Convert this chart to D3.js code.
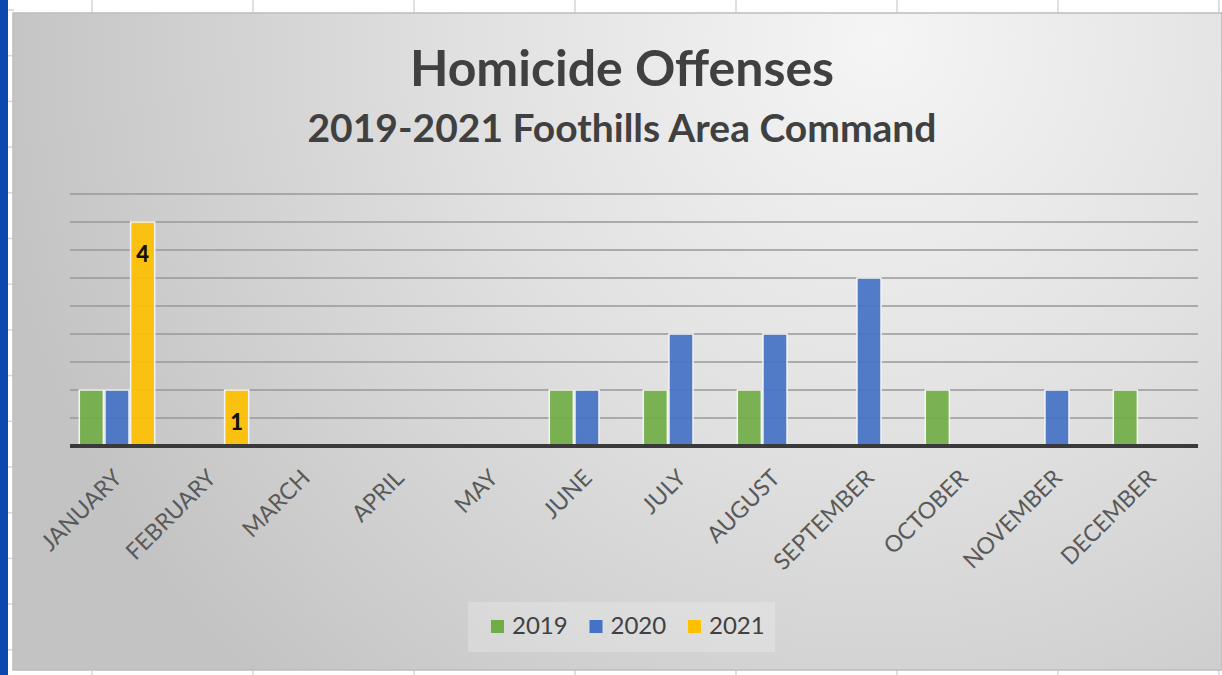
<!DOCTYPE html>
<html>
<head>
<meta charset="utf-8">
<script src="https://cdn.jsdelivr.net/npm/d3@7"></script>
<style>
  body { margin: 0; background: #fff; }
  svg { display: block; }
</style>
</head>
<body>
<div id="chart"></div>
<script>
var months = ["JANUARY","FEBRUARY","MARCH","APRIL","MAY","JUNE","JULY","AUGUST","SEPTEMBER","OCTOBER","NOVEMBER","DECEMBER"];
var years = ["2019","2020","2021"];
var v2019 = [1,0,0,0,0,1,1,1,0,1,0,1];
var v2020 = [1,0,0,0,0,1,2,2,3,0,1,0];
var v2021 = [4,1,0,0,0,0,0,0,0,0,0,0];
var yTicks = [0.5,1,1.5,2,2.5,3,3.5,4,4.5];

var colors = {"2019":"#70ad47","2020":"#4472c4","2021":"#ffc000"};
var seriesVals = {"2019":v2019,"2020":v2020,"2021":v2021};

var width = 1222, height = 675;
var svg = d3.select("#chart").append("svg").attr("width",width).attr("height",height);

// gradient for chart area
var defs = svg.append("defs");
var grad = defs.append("radialGradient").attr("id","bg")
    .attr("gradientUnits","userSpaceOnUse")
    .attr("cx",880).attr("cy",40).attr("r",900);
grad.append("stop").attr("offset","0%").attr("stop-color","#f5f5f5");
grad.append("stop").attr("offset","45%").attr("stop-color","#e1e1e1");
grad.append("stop").attr("offset","100%").attr("stop-color","#c3c3c3");

// spreadsheet bits around the chart
var colLines = d3.range(8).map(i => 92 + i*161);
svg.append("g").selectAll("line").data(colLines).enter().append("line")
    .attr("x1",d=>d).attr("x2",d=>d).attr("y1",0).attr("y2",height)
    .style("stroke","#d6d6d6").style("stroke-width",1.5);
svg.append("g").selectAll("line").data(d3.range(15).map(i => 10 + i*45.7)).enter().append("line")
    .attr("x1",8).attr("x2",14).attr("y1",d=>d).attr("y2",d=>d)
    .style("stroke","#d6d6d6").style("stroke-width",1.5);
svg.append("rect").attr("x",0).attr("y",0).attr("width",8).attr("height",height).style("fill","#0b49ae");

// chart area
svg.append("rect").attr("x",13).attr("y",13).attr("width",width-13).attr("height",657)
    .style("fill","url(#bg)").style("stroke","#bdbdbd").style("stroke-width",1.5);

// titles
svg.append("text").attr("x",622).attr("y",86).attr("text-anchor","middle")
    .style("font","bold 50px Lato").style("fill","#404040").text("Homicide Offenses");
svg.append("text").attr("x",622).attr("y",142).attr("text-anchor","middle")
    .style("font","bold 39px Lato").style("fill","#404040").text("2019-2021 Foothills Area Command");

var margin = {left:70, right:1198, top:194, bottom:446};

var x0 = d3.scaleBand().domain(months).range([margin.left, margin.right]).padding(0);
var x1 = d3.scaleBand().domain(years).range([8.5, x0.bandwidth()-8.5]).padding(0);
var y = d3.scaleLinear().domain([0,4.5]).range([margin.bottom, margin.top]);

// gridlines
svg.append("g").selectAll("line").data(yTicks).enter().append("line")
    .attr("x1",margin.left).attr("x2",margin.right)
    .attr("y1",d=>y(d)).attr("y2",d=>y(d))
    .style("stroke","#999999").style("stroke-width",1.7);

// bars
var barData = [];
months.forEach((m,i)=>{
    years.forEach(yr=>{
        barData.push({month:m, year:yr, value:seriesVals[yr][i]});
    });
});

svg.append("g").selectAll("rect").data(barData.filter(d=>d.value>0)).enter().append("rect")
    .attr("x",d=>x0(d.month)+x1(d.year)+0.8)
    .attr("y",d=>y(d.value))
    .attr("width",x1.bandwidth()-1.6)
    .attr("height",d=>y(0)-y(d.value))
    .style("fill",d=>colors[d.year]).style("fill-opacity",0.92)
    .style("stroke","#f4f4f4").style("stroke-width",1.5);

// data labels for 2021
svg.append("g").selectAll("text").data(barData.filter(d=>d.year=="2021" && d.value>0)).enter().append("text")
    .attr("x",d=>x0(d.month)+x1(d.year)+x1.bandwidth()/2)
    .attr("y",d=>y(d.value)+40)
    .attr("text-anchor","middle")
    .style("font","900 22px Lato").style("fill","#111")
    .text(d=>d.value);

// baseline
svg.append("line").attr("x1",margin.left).attr("x2",margin.right)
    .attr("y1",y(0)).attr("y2",y(0))
    .style("stroke","#3a3a3a").style("stroke-width",4);

// category labels
svg.append("g").selectAll("text").data(months).enter().append("text")
    .attr("transform",d=>"translate("+(x0(d)+x0.bandwidth()/2-5)+","+(468)+") rotate(-45)")
    .attr("text-anchor","end")
    .attr("dy","0.7em")
    .style("font","23px Lato").style("fill","#595959")
    .text(d=>d);

// legend
svg.append("rect").attr("x",468).attr("y",602).attr("width",307).attr("height",50)
    .style("fill","#ffffff").style("fill-opacity",0.22);
var legend = svg.append("g").selectAll("g").data(years).enter().append("g")
    .attr("transform",(d,i)=>"translate("+(491+i*98.5)+",620)");
legend.append("rect").attr("width",13).attr("height",13).style("fill",d=>colors[d]);
legend.append("text").attr("x",21).attr("y",14)
    .style("font","24px Lato").style("fill","#404040").text(d=>d);
</script>
</body>
</html>
